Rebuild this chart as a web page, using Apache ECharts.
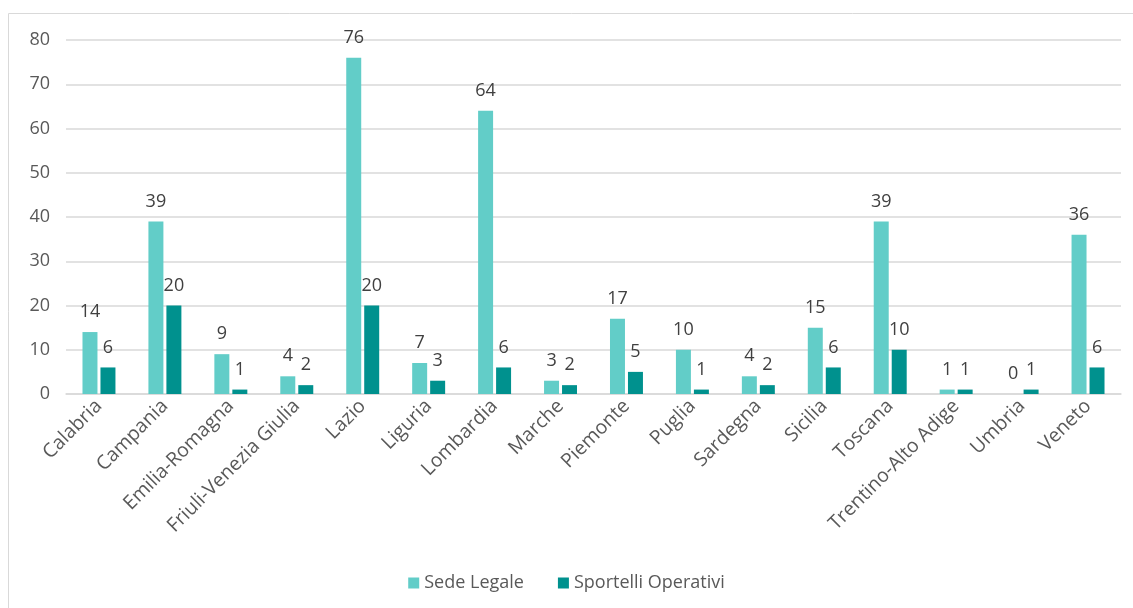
<!DOCTYPE html>
<html>
<head>
<meta charset="utf-8">
<script src="https://cdn.jsdelivr.net/npm/echarts@6/dist/echarts.min.js"></script>
<style>
  html, body { margin: 0; padding: 0; background: #fff; }
  #chart { width: 1133px; height: 608px; }
</style>
</head>
<body>
<div id="chart"></div>
<script>
const regions = ['Calabria', 'Campania', 'Emilia-Romagna', 'Friuli-Venezia Giulia', 'Lazio', 'Liguria', 'Lombardia', 'Marche',
  'Piemonte', 'Puglia', 'Sardegna', 'Sicilia', 'Toscana', 'Trentino-Alto Adige', 'Umbria', 'Veneto'];
const sedeLegale = [14, 39, 9, 4, 76, 7, 64, 3, 17, 10, 4, 15, 39, 1, 0, 36];
const sportelliOperativi = [6, 20, 1, 2, 20, 3, 6, 2, 5, 1, 2, 6, 10, 1, 1, 6];

const font = '"Open Sans", "Noto Sans", sans-serif';

const myechart = echarts.init(document.getElementById('chart'));
const labelStyle = {
  show: true,
  position: 'top',
  distance: 11,
  fontSize: 18,
  color: '#404040',
  fontFamily: font,
};
myechart.setOption({
  animation: false,
  textStyle: { fontFamily: font },
  graphic: [{
    type: 'rect',
    shape: { x: 8.5, y: 13.5, width: 1140, height: 620 },
    style: { fill: 'none', stroke: '#d9d9d9', lineWidth: 1 },
    silent: true,
  }],
  grid: { left: 66, right: 12, top: 40, bottom: 214 },
  legend: {
    left: 'center',
    top: 569,
    itemWidth: 11,
    itemHeight: 11,
    itemGap: 34,
    itemTextGap: 5,
    icon: 'rect',
    textStyle: { fontSize: 18, color: '#595959', fontFamily: font },
    data: ['Sede Legale', 'Sportelli Operativi'],
  },
  xAxis: {
    type: 'category',
    data: regions,
    axisLine: { lineStyle: { color: '#d9d9d9', width: 1.5 } },
    axisTick: { show: false },
    axisLabel: {
      rotate: 45,
      interval: 0,
      margin: 9,
      fontSize: 19.5,
      color: '#595959',
      fontFamily: font,
    },
  },
  yAxis: {
    type: 'value',
    min: 0,
    max: 80,
    interval: 10,
    axisLine: { show: false },
    axisTick: { show: false },
    axisLabel: { fontSize: 18, color: '#595959', margin: 16, fontFamily: font },
    splitLine: { lineStyle: { color: '#d9d9d9', width: 1.5 } },
  },
  series: [
    {
      name: 'Sede Legale',
      type: 'bar',
      data: sedeLegale,
      barGap: '20%',
      barCategoryGap: '50%',
      itemStyle: { color: '#62CDC8' },
      label: labelStyle,
    },
    {
      name: 'Sportelli Operativi',
      type: 'bar',
      data: sportelliOperativi,
      itemStyle: { color: '#00918E' },
      label: labelStyle,
    },
  ],
});
</script>
</body>
</html>
